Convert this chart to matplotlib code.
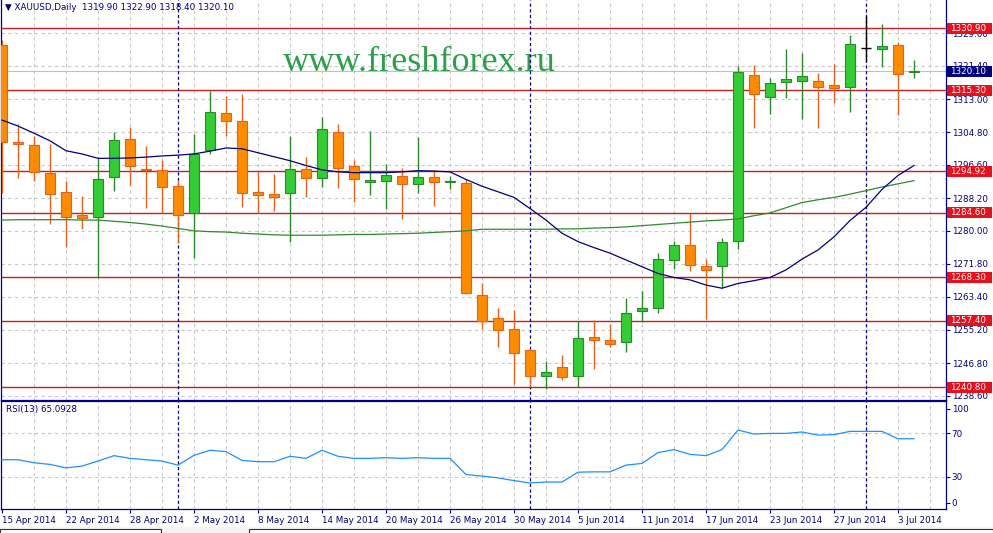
import numpy as np
import matplotlib.pyplot as plt
from matplotlib import transforms
from matplotlib.patches import Rectangle

# daily XAUUSD bars, 15 Apr 2014 .. 4 Jul 2014
opens = [1326.6, 1302.4, 1301.5, 1294.4, 1289.7, 1283.9, 1283.4, 1293.4, 1303.0, 1295.6,
         1295.2, 1291.2, 1284.4, 1300.3, 1309.5, 1307.5, 1289.7, 1289.2, 1289.4, 1295.4,
         1293.2, 1304.9, 1296.3, 1292.2, 1292.5, 1293.7, 1291.7, 1293.6, 1292.2, 1292.1,
         1263.8, 1258.1, 1255.3, 1250.1, 1243.5, 1245.8, 1243.5, 1253.4, 1252.6, 1252.0,
         1259.8, 1260.6, 1272.7, 1276.4, 1271.2, 1271.3, 1277.4, 1319.0, 1313.5, 1317.3,
         1317.5, 1317.5, 1316.5, 1316.0, 1325.8, 1325.6, 1326.6, 1319.9]
highs = [1327.9, 1306.8, 1303.8, 1301.8, 1292.5, 1288.7, 1298.6, 1304.8, 1306.1, 1301.3,
         1297.8, 1292.8, 1304.3, 1315.2, 1313.8, 1314.3, 1295.0, 1294.3, 1303.8, 1298.5,
         1308.6, 1306.8, 1297.9, 1305.1, 1296.7, 1295.7, 1303.5, 1295.3, 1293.8, 1292.9,
         1267.0, 1260.6, 1260.1, 1250.3, 1247.3, 1248.8, 1257.4, 1257.6, 1256.6, 1263.1,
         1264.9, 1274.4, 1277.5, 1284.4, 1273.0, 1278.1, 1321.4, 1321.6, 1318.3, 1325.6,
         1324.6, 1319.5, 1321.9, 1329.1, 1333.9, 1331.9, 1327.3, 1322.9]
lows = [1289.5, 1293.2, 1292.6, 1281.7, 1275.9, 1280.4, 1268.2, 1290.1, 1291.5, 1285.8,
        1284.4, 1276.9, 1273.2, 1299.2, 1303.9, 1286.1, 1284.4, 1285.1, 1277.3, 1288.6,
        1291.1, 1290.7, 1287.3, 1289.1, 1285.6, 1282.9, 1289.6, 1286.3, 1290.4, 1264.2,
        1255.4, 1250.9, 1241.6, 1240.7, 1240.2, 1242.6, 1240.7, 1245.3, 1250.9, 1249.7,
        1257.2, 1259.5, 1270.5, 1270.0, 1258.0, 1265.7, 1275.5, 1305.9, 1309.3, 1313.4,
        1308.1, 1305.9, 1312.2, 1309.9, 1322.6, 1321.0, 1309.1, 1318.4]
closes = [1302.2, 1301.8, 1294.8, 1289.2, 1283.4, 1283.3, 1292.9, 1302.8, 1296.2, 1295.2,
          1290.9, 1283.9, 1299.3, 1309.8, 1307.5, 1289.4, 1288.9, 1288.4, 1295.4, 1293.2,
          1305.5, 1295.7, 1292.9, 1292.8, 1293.9, 1291.7, 1293.6, 1292.2, 1292.5, 1264.3,
          1257.5, 1255.0, 1249.3, 1243.5, 1244.5, 1243.2, 1253.0, 1252.7, 1251.7, 1259.3,
          1260.6, 1272.9, 1276.4, 1271.4, 1270.1, 1277.2, 1319.9, 1314.3, 1317.0, 1318.0,
          1318.8, 1316.0, 1315.8, 1326.8, 1325.8, 1326.4, 1319.3, 1320.1]

ma_fast = [1307.8, 1306.3, 1304.5, 1302.6, 1300.1, 1299.3, 1298.2, 1298.2, 1298.3, 1298.5,
           1298.8, 1299.0, 1299.3, 1300.0, 1300.8, 1300.6, 1299.6, 1298.6, 1297.6, 1296.4,
           1295.3, 1294.8, 1294.6, 1294.6, 1294.6, 1294.8, 1295.1, 1295.0, 1294.8, 1292.9,
           1291.2, 1289.8, 1288.4, 1285.6, 1282.7, 1279.4, 1277.3, 1275.8, 1274.4, 1272.7,
           1271.0, 1269.3, 1268.3, 1267.7, 1266.4, 1265.6, 1266.8, 1267.5, 1268.3, 1270.2,
           1272.9, 1275.2, 1278.5, 1282.6, 1285.9, 1290.4, 1293.9, 1296.4]
ma_slow = [1282.7, 1282.8, 1282.8, 1282.8, 1282.8, 1282.7, 1282.7, 1282.4, 1282.1, 1281.7,
           1281.2, 1280.6, 1280.0, 1279.8, 1279.7, 1279.4, 1279.2, 1279.0, 1278.9, 1278.9,
           1278.9, 1279.0, 1279.1, 1279.1, 1279.2, 1279.3, 1279.4, 1279.6, 1279.8, 1280.0,
           1280.4, 1280.4, 1280.4, 1280.4, 1280.4, 1280.5, 1280.5, 1280.7, 1280.8, 1281.0,
           1281.3, 1281.6, 1281.9, 1282.2, 1282.5, 1282.7, 1283.0, 1283.8, 1284.5, 1285.8,
           1287.1, 1287.8, 1288.4, 1289.2, 1290.1, 1291.0, 1291.8, 1292.6]
rsi = [45.6, 45.6, 42.8, 41.3, 38.1, 39.7, 44.4, 49.4, 46.9, 45.6,
       44.4, 40.6, 49.7, 54.4, 53.1, 45.0, 43.8, 43.8, 48.8, 46.9,
       54.4, 48.8, 46.9, 46.9, 47.5, 46.9, 47.5, 46.9, 46.9, 31.9,
       30.5, 28.8, 26.3, 24.1, 25.0, 25.0, 34.1, 34.4, 34.4, 40.6,
       42.2, 52.2, 55.0, 50.6, 49.4, 55.0, 73.1, 69.4, 70.0, 70.0,
       71.3, 68.4, 68.8, 71.9, 71.9, 71.9, 65.0, 65.09]

date_labels = ['15 Apr 2014', '22 Apr 2014', '28 Apr 2014', '2 May 2014', '8 May 2014',
               '14 May 2014', '20 May 2014', '26 May 2014', '30 May 2014', '5 Jun 2014',
               '11 Jun 2014', '17 Jun 2014', '23 Jun 2014', '27 Jun 2014', '3 Jul 2014']
price_ticks = [1238.60, 1246.80, 1255.20, 1263.40, 1271.80, 1280.00,
               1288.20, 1296.60, 1304.80, 1313.00, 1321.40, 1329.60]
levels = [1330.90, 1315.30, 1294.92, 1284.60, 1268.30, 1257.40, 1240.80]
bid = 1320.10
month_starts = [11, 33, 54]

navy = '#000080'
grid_c = '#c8c8c8'
plt.rcParams['font.family'] = 'DejaVu Sans'
fs = 6.3

W, H = 993, 533
fig = plt.figure(figsize=(W / 100, H / 100), dpi=100)
ax = fig.add_axes([1 / W, 133 / H, 945 / W, 400 / H])
ax2 = fig.add_axes([1 / W, 24 / H, 945 / W, 108 / H])

x = np.arange(len(opens))
xlim = (-1 / 16, 944 / 16)

# ---- main panel
ax.set_xlim(*xlim)
ax.set_ylim(1237.55, 1337.93)
for v in price_ticks:
    ax.axhline(v, color=grid_c, ls=(0, (3, 3)), lw=0.8, zorder=0)
for b in range(2, 60, 2):
    ax.axvline(b, color=grid_c, ls=(0, (3, 3)), lw=0.8, zorder=0)
ax.axhline(bid, color='#c0c0c0', lw=0.8, zorder=1)
for lev in levels:
    ax.axhline(lev, color='#c81e1e', lw=1.0, zorder=2)
for b in month_starts:
    ax.axvline(b, color=navy, ls=(0, (2.5, 2)), lw=0.9, zorder=2)

ax.text(0.443, 1 - 71 / 400, 'www.freshforex.ru', transform=ax.transAxes,
        ha='center', va='baseline', fontsize=26, color='#2ca048',
        family='Liberation Serif', zorder=1)

for i in x:
    o, h, l, c = opens[i], highs[i], lows[i], closes[i]
    if c > o:
        fill, edge = '#32cd32', '#2a8a2a'
    elif c < o:
        fill, edge = '#ff8c00', '#e8601a'
    else:
        fill, edge = 'black', 'black'
    ax.vlines(i, l, h, color=edge, lw=1.0, zorder=3)
    if c == o:
        ax.hlines(o, i - 0.33, i + 0.33, color='black', lw=1.0, zorder=4)
    else:
        ax.bar(i, max(abs(c - o), 0.3), bottom=min(o, c), width=0.6,
               color=fill, edgecolor=edge, lw=0.8, zorder=4)

ax.plot(x, ma_slow, color='#2e8b2e', lw=0.9, zorder=5)
ax.plot(x, ma_fast, color=navy, lw=0.9, zorder=5)

ax.set_xticks([])
ax.yaxis.tick_right()
ax.set_yticks(price_ticks)
ax.set_yticklabels([f'{v:.2f}' for v in price_ticks])
ax.tick_params(axis='y', colors=navy, length=3, pad=1, labelsize=fs, width=0.8)
for s in ['left', 'right', 'bottom']:
    ax.spines[s].set_color(navy)
    ax.spines[s].set_linewidth(0.9)
ax.spines['top'].set_visible(False)

trans = transforms.blended_transform_factory(ax.transAxes, ax.transData)
box_h = 11 / 3.985
for lev in levels + [bid]:
    fc = navy if lev == bid else '#e8101a'
    ax.add_patch(Rectangle((1 + 1 / 945, lev - box_h / 2), 45 / 945, box_h,
                           transform=trans, fc=fc, ec='none', clip_on=False, zorder=6))
    ax.text(1 + 4 / 945, lev, f'{lev:.2f}', transform=trans, ha='left', va='center',
            color='white', fontsize=fs, clip_on=False, zorder=7)

ax.text(4 / 945, 1 - 8 / 400, '\u25bc XAUUSD,Daily  1319.90 1322.90 1318.40 1320.10',
        transform=ax.transAxes, ha='left', va='center', color=navy, fontsize=fs)

# ---- RSI panel
ax2.set_xlim(*xlim)
ax2.set_ylim(0, 100)
for v in [30, 70]:
    ax2.axhline(v, color=grid_c, ls=(0, (3, 3)), lw=0.8, zorder=0)
for b in range(2, 60, 2):
    ax2.axvline(b, color=grid_c, ls=(0, (3, 3)), lw=0.8, zorder=0)
for b in month_starts:
    ax2.axvline(b, color=navy, ls=(0, (2.5, 2)), lw=0.9, zorder=2)
ax2.plot(x, rsi, color='#1e90ff', lw=0.9, zorder=3)
ax2.text(5 / 945, 0.917, 'RSI(13) 65.0928', transform=ax2.transAxes,
         ha='left', va='center', color=navy, fontsize=fs)

ax2.yaxis.tick_right()
ax2.set_yticks([6, 30, 70, 93])
ax2.set_yticklabels(['0', '30', '70', '100'])
ax2.tick_params(axis='y', colors=navy, length=3, pad=1, labelsize=fs, width=0.8)
ax2.set_xticks(range(0, 57, 4))
ax2.set_xticklabels(date_labels)
for lbl in ax2.get_xticklabels():
    lbl.set_ha('left')
ax2.tick_params(axis='x', colors=navy, length=3, pad=2, labelsize=fs, width=0.8)
for s in ax2.spines.values():
    s.set_color(navy)
    s.set_linewidth(0.9)

# tab strip at the bottom
fig.add_artist(Rectangle((0, 0), 1, 6 / H, transform=fig.transFigure,
                         fc='#f4f4f4', ec='none'))
for x0, x1 in [(0, 161), (249, 993)]:
    fig.add_artist(Rectangle((x0 / W, -1 / H), (x1 - x0) / W, 5 / H,
                             transform=fig.transFigure, fc='white', ec='#303030', lw=0.8))

fig.savefig('out.png', dpi=100)
